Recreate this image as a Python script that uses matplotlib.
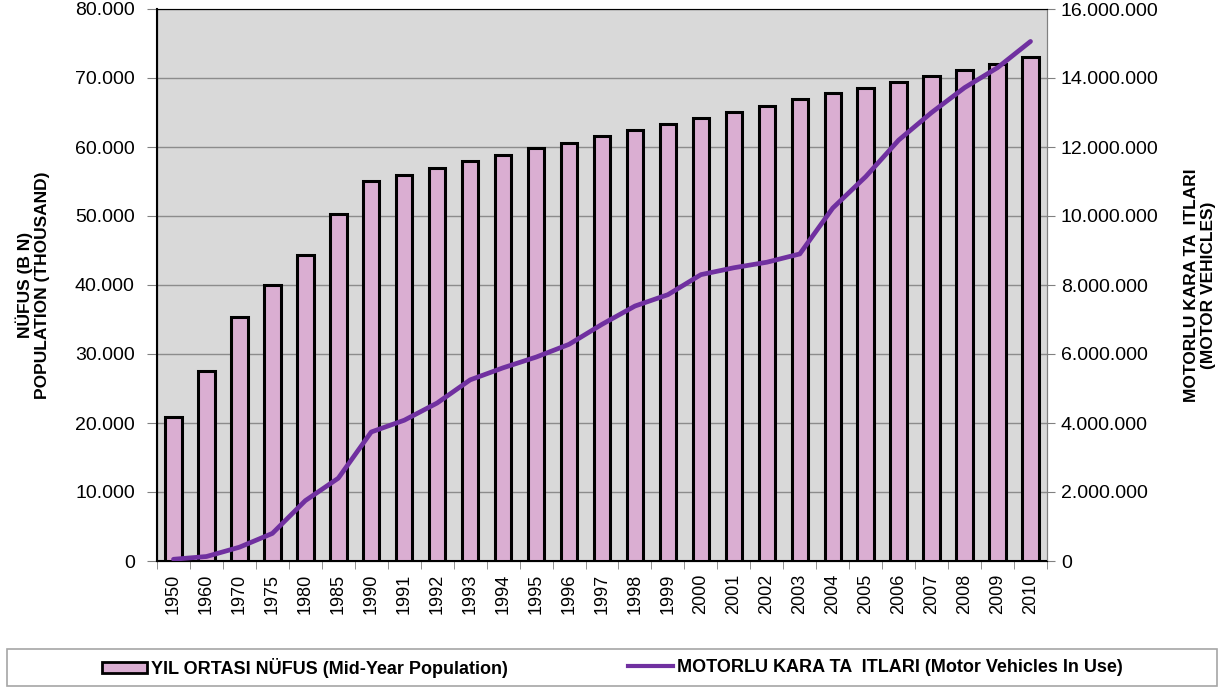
import numpy as np
import matplotlib.pyplot as plt
from matplotlib.ticker import FuncFormatter
from matplotlib.patches import Patch, Rectangle
from matplotlib.lines import Line2D

plt.rcParams['font.family'] = ['Liberation Sans', 'DejaVu Sans']

# Yillar / years
years = ["1950", "1960", "1970", "1975", "1980", "1985", "1990", "1991", "1992",
         "1993", "1994", "1995", "1996", "1997", "1998", "1999", "2000", "2001",
         "2002", "2003", "2004", "2005", "2006", "2007", "2008", "2009", "2010"]

# Yil ortasi nufus (bin kisi)
population = [20900, 27500, 35300, 40000, 44400, 50300, 55100, 56000, 56900,
              57900, 58800, 59800, 60600, 61600, 62400, 63400, 64200, 65100,
              66000, 66900, 67800, 68600, 69400, 70300, 71100, 72000, 73000]

# Motorlu kara tasitlari
vehicles = [50000, 130000, 400000, 800000, 1750000, 2400000, 3740000, 4080000,
            4580000, 5250000, 5600000, 5910000, 6280000, 6860000, 7390000,
            7720000, 8300000, 8500000, 8660000, 8900000, 10230000, 11140000,
            12200000, 13000000, 13720000, 14300000, 15060000]


def dotfmt(v, pos):
    return f"{int(round(v)):,}".replace(",", ".")


W, H = 1229, 688
fig = plt.figure(figsize=(W / 100, H / 100), dpi=100)
ax = fig.add_axes([157 / W, 1 - 561 / H, 890 / W, 552 / H])
ax.set_facecolor("#D9D9D9")

x = np.arange(len(years))
ax.bar(x, population, width=0.5, color="#DAAED2", edgecolor="black",
       linewidth=2.2, zorder=3)
ax.set_xlim(-0.5, len(years) - 0.5)
ax.set_ylim(0, 80000)
ax.set_yticks(np.arange(0, 80001, 10000))
ax.yaxis.set_major_formatter(FuncFormatter(dotfmt))
ax.grid(axis="y", color="#8C8C8C", linewidth=1, zorder=1)

ax.set_xticks(x)
ax.set_xticklabels(years, rotation=90, fontsize=13)
ax.set_xticks(np.arange(-0.5, len(years), 1), minor=True)
ax.tick_params(axis="x", which="major", length=0, pad=9)
ax.tick_params(axis="x", which="minor", length=6, color="#808080")
ax.tick_params(axis="y", length=7, color="#808080", labelsize=14, pad=9)

for s in ["top", "right"]:
    ax.spines[s].set_color("#808080")
ax.spines["left"].set_linewidth(1.5)
ax.spines["bottom"].set_linewidth(1.5)

ax.set_ylabel("NÜFUS (B N)\nPOPULATION (THOUSAND)", fontsize=12.5,
              fontweight="bold")
ax.yaxis.set_label_coords((50 - 157) / 890, 0.5)

ax2 = ax.twinx()
ax2.plot(x, vehicles, color="#7030A0", linewidth=3.4, zorder=4,
         solid_capstyle="round")
ax2.set_ylim(0, 16000000)
ax2.set_yticks(np.arange(0, 16000001, 2000000))
ax2.yaxis.set_major_formatter(FuncFormatter(dotfmt))
ax2.tick_params(labelsize=14, length=6, color="#808080", pad=4)
ax2.spines["right"].set_color("#808080")
ax2.set_ylabel("MOTORLU KARA TA  ITLARI\n(MOTOR VEHICLES)", fontsize=12.5,
               fontweight="bold")
ax2.yaxis.set_label_coords((1184 - 157) / 890, 0.5)

# legend frame
fig.patches.append(Rectangle((7 / W, 1 - 686 / H), 1210 / W, 37 / H,
                             transform=fig.transFigure, facecolor="white",
                             edgecolor="#A6A6A6", linewidth=1.2, zorder=0))

leg_kw = dict(loc="center left", frameon=False, borderpad=0, borderaxespad=0,
              prop={"weight": "bold", "size": 13}, handletextpad=0.2,
              handlelength=2.5)
fig.legend([Patch(facecolor="#DAAED2", edgecolor="black", linewidth=2)],
           ["YIL ORTASI NÜFUS (Mid-Year Population)"],
           bbox_to_anchor=(102 / W, 1 - 668 / H), handleheight=0.5, **leg_kw)
fig.legend([Line2D([0], [0], color="#7030A0", linewidth=3)],
           ["MOTORLU KARA TA  ITLARI (Motor Vehicles In Use)"],
           bbox_to_anchor=(628 / W, 1 - 668 / H), **leg_kw)

fig.savefig("out.png", dpi=100)
